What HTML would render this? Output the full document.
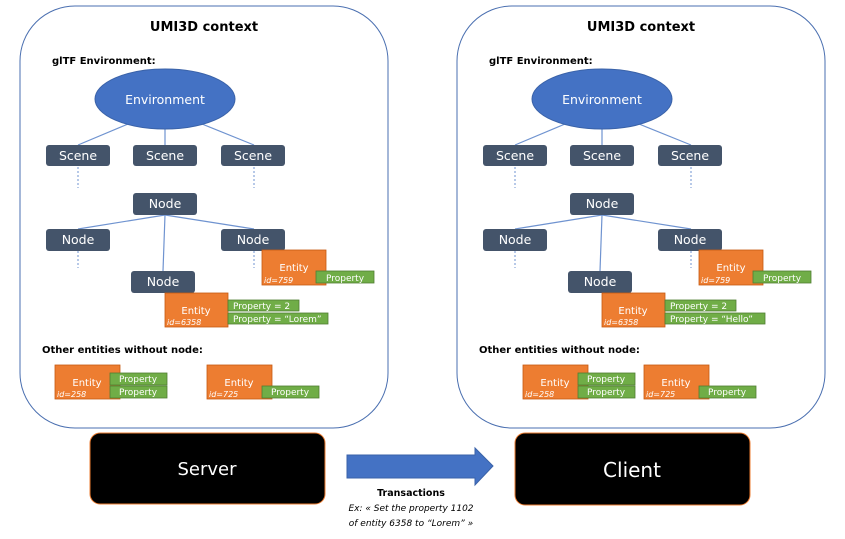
<!DOCTYPE html>
<html><head><style>body{margin:0;background:#fff}svg{display:block}text{font-family:"DejaVu Sans","Liberation Sans",sans-serif}</style></head><body>
<svg width="845" height="539" viewBox="0 0 845 539" xmlns="http://www.w3.org/2000/svg">
<defs>
<g id="e258">
<rect x="55" y="365" width="65" height="34" fill="#ed7d31" stroke="#c55a11" stroke-width="0.8"/>
<rect x="110" y="373" width="57" height="12" fill="#70ad47" stroke="#507e32" stroke-width="0.8"/><rect x="110" y="386" width="57" height="12" fill="#70ad47" stroke="#507e32" stroke-width="0.8"/>
<g fill="#fff" font-size="10"><text x="87" y="386" text-anchor="middle">Entity</text><text x="57" y="397" font-size="8" font-style="italic">id=258</text>
<text x="138" y="382" font-size="9" text-anchor="middle">Property</text><text x="138" y="395" font-size="9" text-anchor="middle">Property</text></g>
</g>
<g id="panel">
<rect x="20" y="6" width="368" height="422" rx="55" fill="#fff" stroke="#4a6fb0" stroke-width="1"/>
<text x="204" y="31" font-size="13" font-weight="bold" text-anchor="middle">UMI3D context</text>
<text x="52" y="64" font-size="10" font-weight="bold">glTF Environment:</text>
<g stroke="#6f93d0" stroke-width="1.2">
<line x1="128" y1="124" x2="78" y2="145"/><line x1="165" y1="129" x2="165" y2="145"/><line x1="202" y1="124" x2="254" y2="145"/>
<line x1="165" y1="215" x2="78" y2="229"/><line x1="165" y1="215" x2="254" y2="229"/><line x1="165" y1="215" x2="163" y2="271"/>
</g>
<g stroke="#6f93d0" stroke-dasharray="2,2"><line x1="78" y1="167" x2="78" y2="188"/><line x1="254" y1="167" x2="254" y2="188"/><line x1="78" y1="251" x2="78" y2="268"/><line x1="254" y1="251" x2="254" y2="268"/></g>
<ellipse cx="165" cy="99" rx="70" ry="30" fill="#4472c4" stroke="#3a62a8"/>
<text x="165" y="104" font-size="12.5" fill="#fff" text-anchor="middle">Environment</text>
<g fill="#44546a">
<rect x="46" y="145" width="64" height="21" rx="3"/><rect x="133" y="145" width="64" height="21" rx="3"/><rect x="221" y="145" width="64" height="21" rx="3"/>
<rect x="133" y="193" width="64" height="22" rx="3"/><rect x="46" y="229" width="64" height="22" rx="3"/><rect x="221" y="229" width="64" height="22" rx="3"/><rect x="131" y="271" width="64" height="22" rx="3"/>
</g>
<g fill="#fff" font-size="12.5" text-anchor="middle">
<text x="78" y="160">Scene</text><text x="165" y="160">Scene</text><text x="253" y="160">Scene</text>
<text x="165" y="208">Node</text><text x="78" y="244">Node</text><text x="253" y="244">Node</text><text x="163" y="286">Node</text>
</g>
<g fill="#ed7d31" stroke="#c55a11" stroke-width="0.8">
<rect x="262" y="250" width="64" height="35"/><rect x="165" y="293" width="63" height="34"/><rect x="207" y="365" width="65" height="34"/>
</g>
<g fill="#70ad47" stroke="#507e32" stroke-width="0.8">
<rect x="316" y="271" width="58" height="12"/><rect x="228" y="300" width="71" height="11"/><rect x="228" y="313" width="100" height="11"/>
<rect x="262" y="386" width="57" height="12"/>
</g>
<g fill="#fff" font-size="10">
<text x="294" y="271" text-anchor="middle">Entity</text><text x="264" y="283" font-size="8" font-style="italic">id=759</text>
<text x="196" y="314" text-anchor="middle">Entity</text><text x="167" y="325" font-size="8" font-style="italic">id=6358</text>
<text x="239" y="386" text-anchor="middle">Entity</text><text x="209" y="397" font-size="8" font-style="italic">id=725</text>
<g font-size="9"><text x="345" y="281" text-anchor="middle">Property</text><text x="233" y="309">Property = 2</text>
<text x="290" y="395" text-anchor="middle">Property</text></g>
</g>
<text x="42" y="353" font-size="10" font-weight="bold">Other entities without node:</text>
</g>
</defs>
<use href="#panel"/><use href="#e258"/>
<text x="233" y="322" font-size="9" fill="#fff">Property = “Lorem”</text>
<g transform="translate(437,0)"><use href="#panel"/><use href="#e258" transform="translate(31,0)"/><text x="233" y="322" font-size="9" fill="#fff">Property = “Hello”</text></g>
<rect x="90" y="433" width="235" height="71" rx="10" fill="#000" stroke="#ed7d31"/>
<text x="207" y="475" font-size="18" fill="#fff" text-anchor="middle">Server</text>
<rect x="515" y="433" width="235" height="72" rx="10" fill="#000" stroke="#ed7d31"/>
<text x="632" y="477" font-size="20" fill="#fff" text-anchor="middle">Client</text>
<polygon points="347,455 475,455 475,448 493,466 475,485 475,478 347,478" fill="#4472c4" stroke="#3a62a8"/>
<text x="411" y="496" font-size="9.5" font-weight="bold" text-anchor="middle">Transactions</text>
<text x="411" y="511" font-size="9" font-style="italic" text-anchor="middle">Ex: « Set the property 1102</text>
<text x="411" y="526" font-size="9" font-style="italic" text-anchor="middle">of entity 6358 to “Lorem” »</text>
</svg>
</body></html>
